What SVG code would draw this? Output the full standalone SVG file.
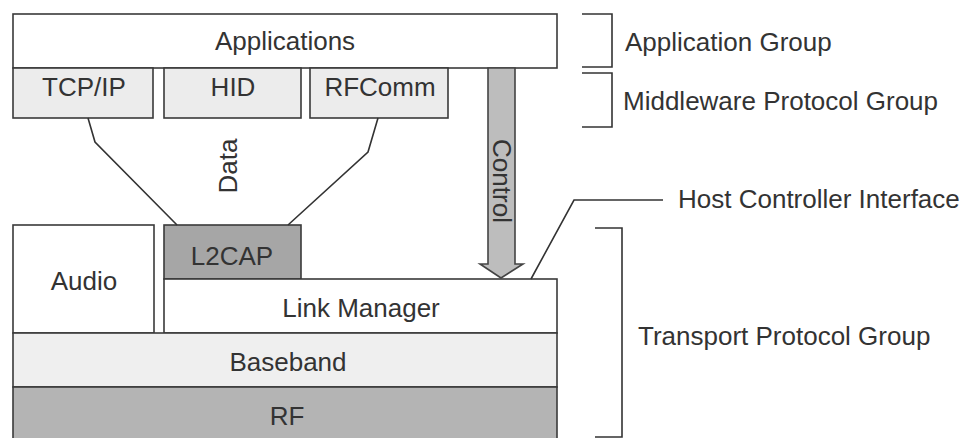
<svg xmlns="http://www.w3.org/2000/svg" width="966" height="438" viewBox="0 0 966 438">
<style>
.box{stroke:#3a3a3a;stroke-width:1.6}
.t{font-family:"Liberation Sans",Arial,sans-serif;font-size:26px;fill:#333}
.c{text-anchor:middle}
.ln{fill:none;stroke:#333;stroke-width:1.6}
</style>
<rect width="966" height="438" fill="#ffffff"/>
<g id="applications"><rect class="box" x="13" y="14" width="544" height="54" fill="#ffffff"/><text class="t c" x="285" y="50">Applications</text></g>
<g id="tcpip"><rect class="box" x="13" y="68" width="140" height="50" fill="#ececec"/><text class="t c" x="84" y="96">TCP/IP</text></g>
<g id="hid"><rect class="box" x="164" y="68" width="137" height="50" fill="#ececec"/><text class="t c" x="233" y="96">HID</text></g>
<g id="rfcomm"><rect class="box" x="310" y="68" width="138" height="50" fill="#ececec"/><text class="t c" x="380" y="96">RFComm</text></g>
<g id="audio"><rect class="box" x="13" y="225" width="141" height="108" fill="#ffffff"/><text class="t c" x="84" y="290">Audio</text></g>
<g id="l2cap"><rect class="box" x="164" y="225" width="137" height="54" fill="#a6a6a6"/><text class="t c" x="232" y="265">L2CAP</text></g>
<g id="linkmanager"><rect class="box" x="164" y="279" width="393" height="54" fill="#ffffff"/><text class="t c" x="361" y="317">Link Manager</text></g>
<g id="baseband"><rect class="box" x="13" y="333" width="544" height="54" fill="#efefef"/><text class="t c" x="288" y="371">Baseband</text></g>
<g id="rf"><rect class="box" x="13" y="387" width="544" height="60" fill="#b4b4b4"/><text class="t c" x="287" y="425">RF</text></g>
<g id="connectors">
<path class="ln" d="M88,118 L95,142 L177,225"/>
<path class="ln" d="M378,118 L368,152 L288,225"/>
<text class="t c" transform="translate(237,166) rotate(-90)">Data</text>
<path d="M488,68 L515,68 L515,264 L523,264 L501,278 L480,264 L488,264 Z" fill="#bdbdbd" stroke="#444" stroke-width="1.6"/>
<text class="t c" transform="translate(493,181) rotate(90)">Control</text>
<path class="ln" d="M531,279 L574,200 L663,200"/>
</g>
<g id="app-group"><path class="ln" d="M582,14 L612,14 L612,67 L582,67"/><text class="t" x="625" y="51">Application Group</text></g>
<g id="mw-group"><path class="ln" d="M582,73 L612,73 L612,127 L582,127"/><text class="t" x="623" y="110">Middleware Protocol Group</text></g>
<g id="hci"><text class="t" x="678" y="208">Host Controller Interface</text></g>
<g id="tp-group"><path class="ln" d="M595,228 L622,228 L622,437 L595,437"/><text class="t" x="638" y="345">Transport Protocol Group</text></g>
</svg>
